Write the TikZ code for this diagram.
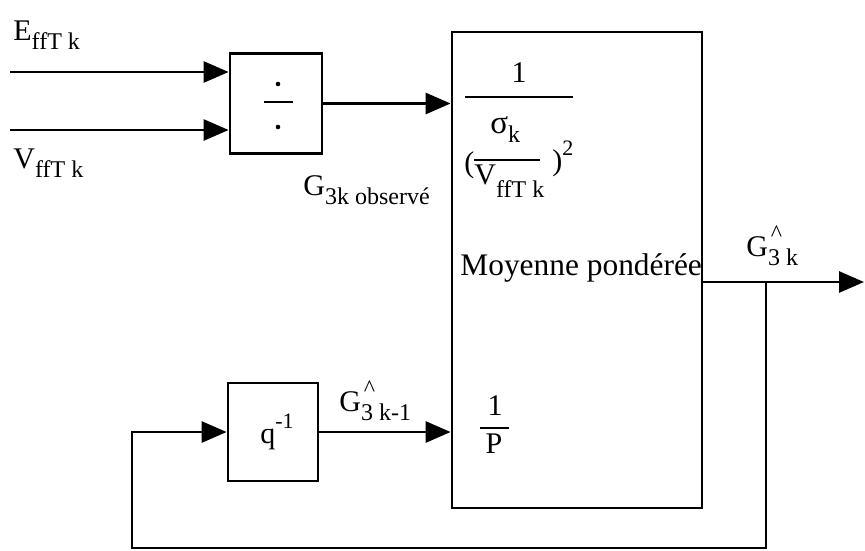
\documentclass[tikz,border=0pt]{standalone}
\usepackage{fontspec}
\setmainfont{Liberation Serif}
\usetikzlibrary{arrows.meta,calc}
\newcommand{\mysb}[1]{\raisebox{-0.3em}{\fontsize{24}{24}\selectfont #1}}
\newcommand{\mysp}[1]{\raisebox{0.5em}{\fontsize{22}{22}\selectfont #1}}
\newcommand{\ghat}[1]{G\rlap{\raisebox{0.5em}{\fontsize{24}{24}\selectfont\hspace{0.12em}\textasciicircum}}\mysb{#1}}
\begin{document}
\begin{tikzpicture}[x=1pt,y=-1pt,line width=2.8pt,
  font=\fontsize{30}{34}\selectfont,
  box/.style={draw,rectangle,inner sep=0pt},
  arr/.style={-{Triangle[length=25pt,width=21pt]}},
  bar/.style={line width=2pt},
  txt/.style={anchor=base west,inner sep=0pt}]
\useasboundingbox (0,0) rectangle (865,550);

% boxes
\node[box,minimum width=92pt,minimum height=100pt] (div) at (276,103.5) {};
\node[box,minimum width=250pt,minimum height=476pt] (big) at (577,270) {};
\node[box,minimum width=90pt,minimum height=98pt] (qb) at (273,432) {\hspace{8pt}q\mysp{-1}};

% divide symbol
\fill ($(div.center)+(2,-19.5)$) circle (2.3pt);
\fill ($(div.center)+(2,23.5)$) circle (2.3pt);
\draw[bar] ($(div.center)+(-12,-1.5)$) -- ($(div.center)+(17,-1.5)$);

% inputs
\coordinate (ein) at (10,72);
\coordinate (vin) at (10,130);
\draw[arr] (ein) -- (ein -| div.west);
\draw[arr] (vin) -- (vin -| div.west);
\draw[arr] (div.east) -- (div.east -| big.west);

% labels outside
\node[txt] (el) at (12,40) {E\mysb{ffT k}};
\node[txt] (vl) at (12,168) {V\mysb{ffT k}};
\node[txt] (gobs) at (302,195) {G\mysb{3k observé}};

% inside big box
\node[txt,anchor=base] (one1) at (519,82) {1};
\draw[bar] (465,97) -- (573,97);
\node[txt,font=\fontsize{33}{36}\selectfont] (sig) at (489,133) {σ\raisebox{-0.3em}{\fontsize{24}{24}\selectfont k}};
\node[txt] (lp) at (463,172) {(};
\draw[bar] (474,160) -- (540,160);
\node[txt] (vk) at (473,184) {V\raisebox{-0.45em}{\fontsize{24}{24}\selectfont ffT k}};
\node[txt] (rp) at (551,170) {)\mysp{2}};
\node[txt,font=\fontsize{31.4}{34}\selectfont] (moy) at (459,275) {Moyenne pondérée};
\node[txt,anchor=base] (one2) at (495,415) {1};
\draw[bar] (480,428) -- (509,428);
\node[txt,anchor=base] (pp) at (494,453) {P};

% output and feedback
\coordinate (oend) at (864,282);
\coordinate (br) at (766,282);
\coordinate (fbr) at (766,548);
\coordinate (fbl) at (132,548);
\draw[arr] (oend -| big.east) -- (oend);
\node[txt] (g3k) at (745,256) {\ghat{3 k}};
\draw[arr] (br) -- (fbr) -- (fbl) |- (qb.west);
\draw[arr] (qb.east) -- (qb.east -| big.west);
\node[txt] (g3k1) at (338,411) {\ghat{3 k-1}};
\end{tikzpicture}
\end{document}
